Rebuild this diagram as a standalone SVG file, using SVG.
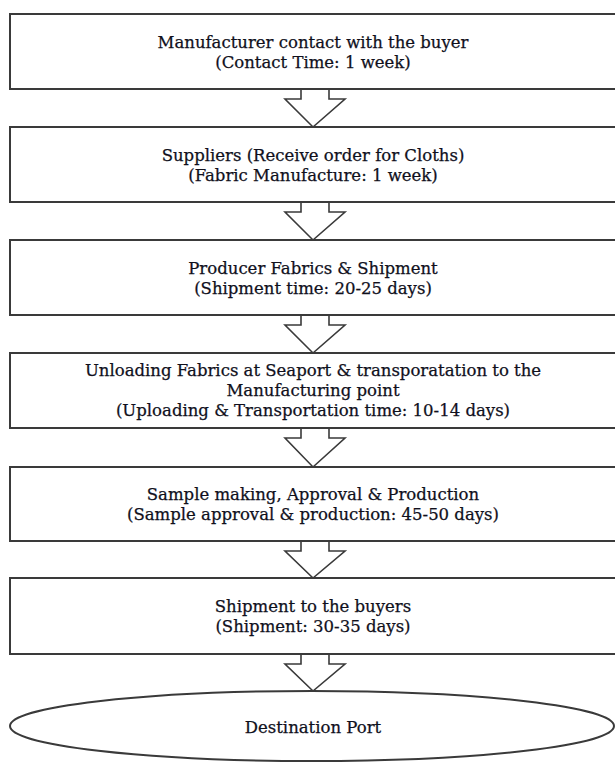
<svg xmlns="http://www.w3.org/2000/svg" width="615" height="763" viewBox="0 0 615 763">
<style>
.box{fill:#fff;stroke:#3a3a3a;stroke-width:2}
.arr{fill:#fff;stroke:#3a3a3a;stroke-width:1.6;stroke-linejoin:miter}
text{font-family:"DejaVu Serif","Liberation Serif",serif;font-size:16.5px;fill:#10101c;stroke:#10101c;stroke-width:0.25;text-anchor:middle;dominant-baseline:central}
</style>
<rect width="615" height="763" fill="#fff"/>
<g id="connectors">
<path class="arr" d="M301,89 V99 H285 L313,127 L345,99 H329 V89"/>
<path class="arr" d="M301,202 V212 H285 L313,240 L345,212 H329 V202"/>
<path class="arr" d="M301,315 V325 H285 L313,353 L345,325 H329 V315"/>
<path class="arr" d="M301,428 V438 H285 L313,467 L345,438 H329 V428"/>
<path class="arr" d="M301,541 V551 H285 L313,578 L345,551 H329 V541"/>
<path class="arr" d="M301,654 V664 H285 L313,691 L345,664 H329 V654"/>
</g>
<g id="n1"><rect class="box" x="10" y="14" width="612" height="75"/>
<text x="313" y="42">Manufacturer contact with the buyer</text>
<text x="313" y="62">(Contact Time: 1 week)</text></g>
<g id="n2"><rect class="box" x="10" y="127" width="612" height="75"/>
<text x="313" y="155">Suppliers (Receive order for Cloths)</text>
<text x="313" y="175">(Fabric Manufacture: 1 week)</text></g>
<g id="n3"><rect class="box" x="10" y="240" width="612" height="75"/>
<text x="313" y="268">Producer Fabrics &amp; Shipment</text>
<text x="313" y="288">(Shipment time: 20-25 days)</text></g>
<g id="n4"><rect class="box" x="10" y="353" width="612" height="75"/>
<text x="313" y="370">Unloading Fabrics at Seaport &amp; transporatation to the</text>
<text x="313" y="390">Manufacturing point</text>
<text x="313" y="410">(Uploading &amp; Transportation time: 10-14 days)</text></g>
<g id="n5"><rect class="box" x="10" y="467" width="612" height="74"/>
<text x="313" y="494">Sample making, Approval &amp; Production</text>
<text x="313" y="514">(Sample approval &amp; production: 45-50 days)</text></g>
<g id="n6"><rect class="box" x="10" y="578" width="612" height="76"/>
<text x="313" y="606">Shipment to the buyers</text>
<text x="313" y="626">(Shipment: 30-35 days)</text></g>
<g id="n7"><ellipse class="box" cx="312" cy="726" rx="302" ry="35"/>
<text x="313" y="727">Destination Port</text></g>
</svg>
